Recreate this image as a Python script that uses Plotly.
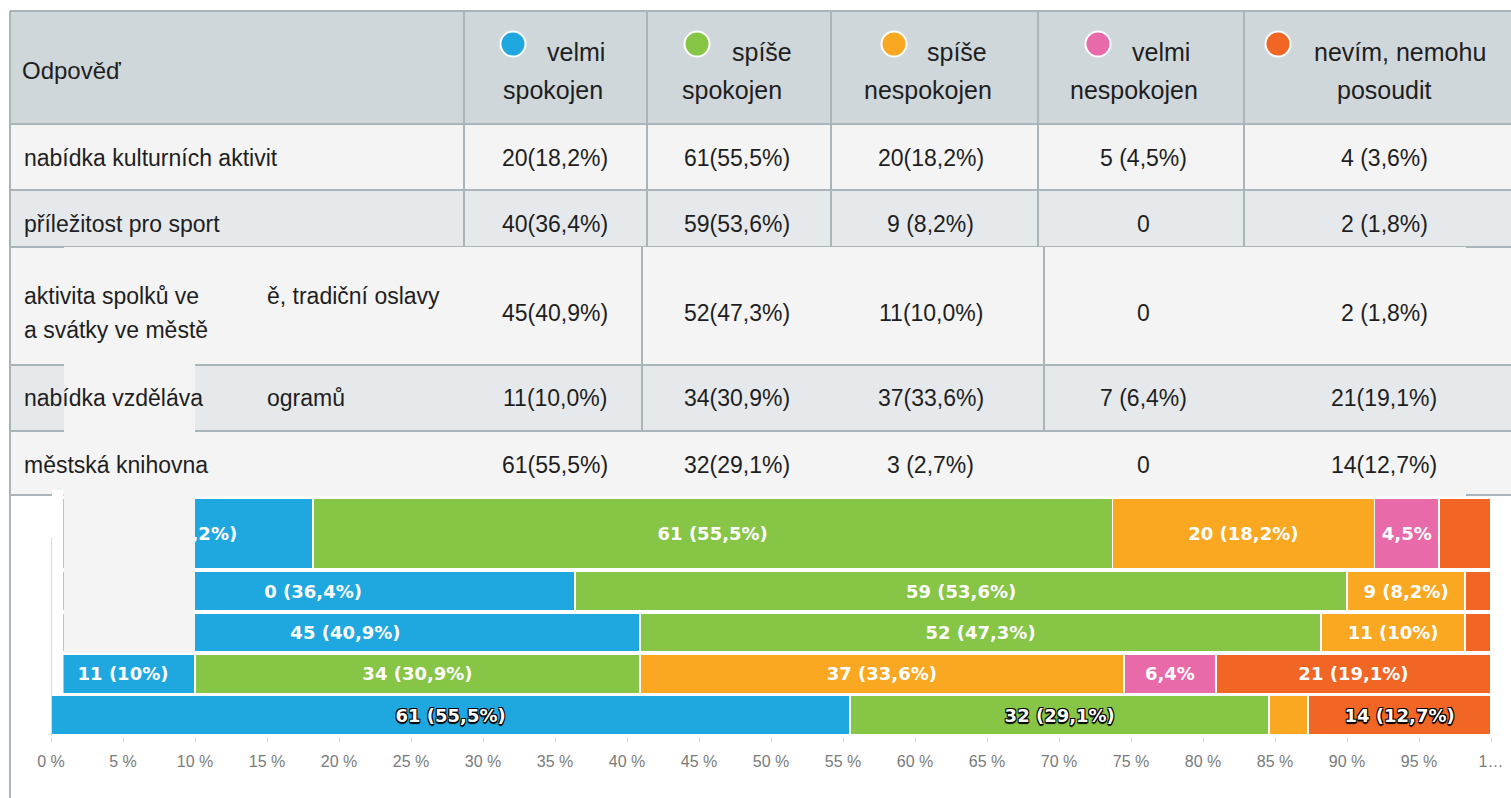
import plotly.graph_objects as go

W, H = 1511, 798

# ---------------- data ----------------
categories = [
    "nabídka kulturních aktivit",
    "příležitost pro sport",
    "aktivita spolků ve městě, tradiční oslavy a svátky ve městě",
    "nabídka vzdělávacích programů",
    "městská knihovna",
]
series_names = ["velmi spokojen", "spíše spokojen", "spíše nespokojen",
                "velmi nespokojen", "nevím, nemohu posoudit"]
series_colors = ["#1fa8df", "#86c546", "#faa822", "#e86aa8", "#f16624"]

counts_velmi_spokojen = [20, 40, 45, 11, 61]
counts_spise_spokojen = [61, 59, 52, 34, 32]
counts_spise_nespokojen = [20, 9, 11, 37, 3]
counts_velmi_nespokojen = [5, 0, 0, 7, 0]
counts_nevim = [4, 2, 2, 21, 14]

pct_velmi_spokojen = [18.2, 36.4, 40.9, 10.0, 55.5]
pct_spise_spokojen = [55.5, 53.6, 47.3, 30.9, 29.1]
pct_spise_nespokojen = [18.2, 8.2, 10.0, 33.6, 2.7]
pct_velmi_nespokojen = [4.5, 0.0, 0.0, 6.4, 0.0]
pct_nevim = [3.6, 1.8, 1.8, 19.1, 12.7]

labels_velmi_spokojen = ["20 (18,2%)", "0 (36,4%)", "45 (40,9%)", "11 (10%)", "61 (55,5%)"]
labels_spise_spokojen = ["61 (55,5%)", "59 (53,6%)", "52 (47,3%)", "34 (30,9%)", "32 (29,1%)"]
labels_spise_nespokojen = ["20 (18,2%)", "9 (8,2%)", "11 (10%)", "37 (33,6%)", ""]
labels_velmi_nespokojen = ["4,5%", "", "", "6,4%", ""]
labels_nevim = ["", "", "", "21 (19,1%)", "14 (12,7%)"]

header_line1 = ["velmi", "spíše", "spíše", "velmi", "nevím, nemohu"]
header_line2 = ["spokojen", "spokojen", "nespokojen", "nespokojen", "posoudit"]

# visible (partly hidden) row labels of the table
row_label_pieces = [
    [("nabídka kulturních aktivit", 22, 158)],
    [("příležitost pro sport", 22, 224)],
    [("aktivita spolků ve", 22, 296), ("ě, tradiční oslavy", 265, 296),
     ("a svátky ve městě", 22, 330)],
    [("nabídka vzděláva", 22, 398), ("ogramů", 265, 398)],
    [("městská knihovna", 22, 465)],
]

x_tick_values = [0, 5, 10, 15, 20, 25, 30, 35, 40, 45, 50, 55, 60, 65, 70, 75, 80, 85, 90, 95, 100]
x_tick_labels = ["0 %", "5 %", "10 %", "15 %", "20 %", "25 %", "30 %", "35 %", "40 %", "45 %",
                 "50 %", "55 %", "60 %", "65 %", "70 %", "75 %", "80 %", "85 %", "90 %", "95 %", "1…"]

counts_all = [counts_velmi_spokojen, counts_spise_spokojen, counts_spise_nespokojen,
              counts_velmi_nespokojen, counts_nevim]
pcts_all = [pct_velmi_spokojen, pct_spise_spokojen, pct_spise_nespokojen,
            pct_velmi_nespokojen, pct_nevim]
labels_all = [labels_velmi_spokojen, labels_spise_spokojen, labels_spise_nespokojen,
              labels_velmi_nespokojen, labels_nevim]

# ---------------- layout helpers ----------------
def X(px):
    return px / W


def Y(py):
    return 1 - py / H


FONT = "Liberation Sans, Arial, sans-serif"
LINE = "#aab5bb"
HEAD_BG = "#cfd7db"
ROW_A = "#f4f4f4"
ROW_B = "#e6e9eb"
TXT = "#1e1e1e"

shapes = []
annotations = []


def rect(x0, y0, x1, y1, fill, layer="above"):
    shapes.append(dict(type="rect", xref="paper", yref="paper", x0=X(x0), x1=X(x1),
                       y0=Y(y1), y1=Y(y0), fillcolor=fill, line=dict(width=0), layer=layer))


def hline(y, x0, x1, w=2, color=LINE):
    shapes.append(dict(type="line", xref="paper", yref="paper", x0=X(x0), x1=X(x1),
                       y0=Y(y), y1=Y(y), line=dict(color=color, width=w), layer="above"))


def vline(x, y0, y1, w=2, color=LINE):
    shapes.append(dict(type="line", xref="paper", yref="paper", x0=X(x), x1=X(x),
                       y0=Y(y0), y1=Y(y1), line=dict(color=color, width=w), layer="above"))


def text(s, x, y, size=23, anchor="left", color=TXT, family=FONT):
    annotations.append(dict(text=s, x=X(x), y=Y(y), xref="paper", yref="paper",
                            xanchor=anchor, yanchor="middle", showarrow=False,
                            font=dict(family=family, size=size, color=color)))


def cell_text(c, p):
    if c == 0:
        return "0"
    s = f"{p:.1f}".replace(".", ",")
    return f"{c}({s}%)" if c >= 10 else f"{c} ({s}%)"


# ---------------- table ----------------
row_edges = [11, 124, 190, 247, 365, 431, 495]
col_edges = [10, 464, 647, 831, 1038, 1244]
row_text_y = [158, 224, 313, 398, 465]
col_centers = [555, 737, 931, 1143, 1384]

rect(10, row_edges[0], W, row_edges[1], HEAD_BG)
fills = [ROW_A, ROW_B, ROW_A, ROW_B, ROW_A]
for i, f in enumerate(fills):
    rect(10, row_edges[i + 1], W, row_edges[i + 2], f)
for y in row_edges:
    hline(y, 10, W)
vline(10, 11, H)
for x in col_edges[1:]:
    vline(x, 11, 247)

# displaced overlay block (rendering glitch in the original)
rect(64, 247, 1466, 496, ROW_A)
rect(195, 365, 1466, 431, ROW_B)
hline(365, 195, 1466)
hline(431, 195, 1466)
vline(642, 247, 431)
vline(1044, 247, 431)

# header
text("Odpověď", 20, 70, size=24)
dot_x = [513, 697, 894, 1098, 1278]
line1_x = [545, 730, 925, 1130, 1312]
line2_c = [553, 732, 928, 1134, 1384]
for j in range(5):
    r = 12.5
    shapes.append(dict(type="circle", xref="paper", yref="paper",
                       x0=X(dot_x[j] - r), x1=X(dot_x[j] + r),
                       y0=Y(44 + r), y1=Y(44 - r), fillcolor=series_colors[j],
                       line=dict(color="white", width=2), layer="above"))
    text(header_line1[j], line1_x[j], 52, size=25, anchor="left")
    text(header_line2[j], line2_c[j], 90, size=25, anchor="center")

# body
for i in range(5):
    for (s, x, y) in row_label_pieces[i]:
        text(s, x, y, size=23)
    for j in range(5):
        text(cell_text(counts_all[j][i], pcts_all[j][i]), col_centers[j], row_text_y[i],
             size=23, anchor="center")

# ---------------- stacked bars ----------------
fig = go.Figure()
upper = categories[:4]
bar_w = [1.7, 0.95, 0.95, 0.95]
bar_off = [-0.45, -0.475, -0.475, -0.475]
outline = "1px 1px 0 #000, -1px -1px 0 #000, 1px -1px 0 #000, -1px 1px 0 #000, 0 2px 1px #000"
for j in range(5):
    fig.add_trace(go.Bar(
        y=upper, x=pcts_all[j][:4], orientation="h", name=series_names[j],
        marker=dict(color=series_colors[j], line=dict(color="white", width=1.5)),
        width=bar_w, offset=bar_off,
        text=labels_all[j][:4], textposition="inside", insidetextanchor="middle",
        textangle=0, constraintext="none",
        textfont=dict(family="DejaVu Sans", size=18, color="white", weight="bold"),
        showlegend=False, hoverinfo="skip"))
    fig.add_trace(go.Bar(
        y=categories[4:], x=pcts_all[j][4:], orientation="h", name=series_names[j],
        marker=dict(color=series_colors[j], line=dict(color="white", width=1.5)),
        width=[0.95], offset=[-0.475],
        text=labels_all[j][4:], textposition="inside", insidetextanchor="middle",
        textangle=0, constraintext="none",
        textfont=dict(family="DejaVu Sans", size=18, color="white", weight="bold",
                      shadow=outline),
        showlegend=False, hoverinfo="skip"))

# glitch covers over the left of the bar area
rect(64, 490, 195, 653, ROW_A)
rect(52, 490, 63.5, 695, "white")
# y axis line
shapes.append(dict(type="line", xref="x", yref="y", x0=0, x1=0, y0=-0.5, y1=4.3,
                   line=dict(color="#d5d9ea", width=2), layer="above"))

fig.update_layout(
    width=W, height=H, margin=dict(l=0, r=0, t=0, b=0, autoexpand=False),
    paper_bgcolor="white", plot_bgcolor="rgba(0,0,0,0)",
    barmode="stack", bargap=0.05,
    shapes=shapes, annotations=annotations,
    xaxis=dict(domain=[X(51), X(1491)], range=[0, 100], tickvals=x_tick_values,
               ticktext=x_tick_labels, showgrid=False, zeroline=False, showline=False,
               ticks="outside", ticklen=5, tickcolor="#d8dbe6", ticklabelstandoff=6,
               tickfont=dict(family=FONT, size=16, color="#7a7a7a"),
               automargin=False, fixedrange=True),
    yaxis=dict(domain=[Y(736), Y(496)], type="category",
               categoryorder="array", categoryarray=categories[::-1],
               range=[-0.5, 5.3], showticklabels=False, showgrid=False, zeroline=False,
               showline=False, ticks="", automargin=False, fixedrange=True),
)

fig.write_html("out.html", config={"displayModeBar": False},
               post_script="document.body.style.margin='0';document.body.style.overflow='hidden';")
